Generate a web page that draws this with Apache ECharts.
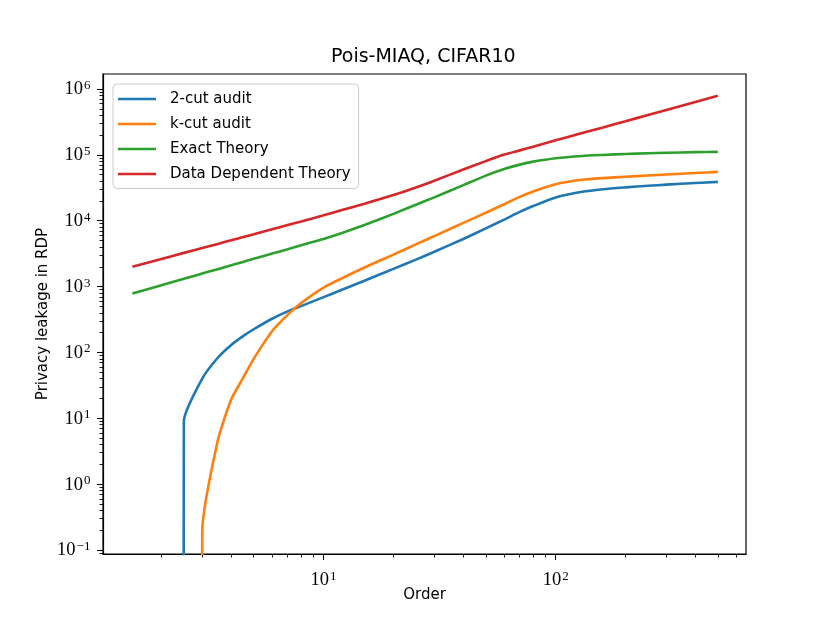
<!DOCTYPE html>
<html>
<head>
<meta charset="utf-8">
<script src="https://cdn.jsdelivr.net/npm/echarts@6/dist/echarts.min.js"></script>
<style>
html,body{margin:0;padding:0;background:#ffffff;}
#chart{width:830px;height:623px;}
</style>
</head>
<body>
<div id="chart"></div>
<script>
// ---- data ----
const orders = [1.5, 2, 2.5, 3, 3.5, 4, 4.5, 5, 6, 7, 8, 10, 12, 15, 20, 25, 30, 40, 50, 60, 70, 80, 100, 130, 160, 200, 250, 300, 400, 500];
const twoCutAudit = [0, 0, 9, 40, 83, 130, 177, 225, 325, 420, 505, 692, 894, 1225, 1860, 2570, 3380, 5280, 7640, 10400, 13600, 16700, 22600, 27500, 30100, 32100, 34000, 35300, 37400, 38900];
const kCutAudit = [0, 0, 0, 0.19, 4.6, 19.3, 41, 80, 210, 372, 562, 968, 1335, 1945, 3060, 4380, 5850, 9270, 13200, 17800, 23000, 27800, 35800, 41800, 44400, 46600, 48600, 50300, 53000, 55200];
const exactTheory = [782, 1045, 1310, 1575, 1840, 2105, 2370, 2640, 3170, 3700, 4240, 5300, 6530, 8630, 12700, 17500, 22600, 34700, 48400, 61000, 71100, 78900, 88900, 96200, 99800, 103300, 105800, 107600, 109900, 111200];
const dataDependentTheory = [2000, 2630, 3250, 3840, 4440, 5050, 5640, 6230, 7410, 8580, 9730, 12100, 14500, 18100, 24500, 32000, 40400, 60000, 80400, 101000, 117000, 133000, 166000, 214000, 261000, 324000, 403000, 481000, 635000, 789000];

const seriesNames = ['2-cut audit', 'k-cut audit', 'Exact Theory', 'Data Dependent Theory'];
const seriesColors = ['#1f77b4', '#ff7f0e', '#2ca02c', '#d62728'];
const seriesValues = [twoCutAudit, kCutAudit, exactTheory, dataDependentTheory];

const titleText = 'Pois-MIAQ, CIFAR10';
const xName = 'Order';
const yName = 'Privacy leakage in RDP';

// axis ranges
const xRange = [1.121, 661];
const yRange = [0.087, 1.69e6];

// tick values
const xMajorTicks = [1, 10, 100];
const yMajorTicks = [0.1, 1, 10, 100, 1000, 10000, 100000, 1000000];
const minorMultipliers = [2, 3, 4, 5, 6, 7, 8, 9];
const xDecades = [1, 10, 100];
const yDecades = [0.01, 0.1, 1, 10, 100, 1000, 10000, 100000];
function minorTicks(decades, range) {
  const out = [];
  decades.forEach(d => minorMultipliers.forEach(m => {
    const v = +(d * m).toPrecision(6);
    if (v > range[0] && v < range[1]) out.push(v);
  }));
  return out;
}
const xMinorTicks = minorTicks(xDecades, xRange);
const yMinorTicks = minorTicks(yDecades, yRange);
const inRange = (arr, r) => arr.filter(v => v >= r[0] && v <= r[1]);

// ---- styling ----
const SANS = 'DejaVu Sans';
const SERIF = 'Liberation Serif';
const BLACK = '#000000';

function powLabel(v) {
  const e = Math.round(Math.log10(v));
  const s = e < 0 ? '\u2212' + (-e) : String(e);
  return '{b|10}{s|' + s + '}';
}
const labelRich = {
  b: {fontFamily: SERIF, fontSize: 18.5, color: BLACK, lineHeight: 20, verticalAlign: 'bottom'},
  s: {fontFamily: SERIF, fontSize: 13, color: BLACK, lineHeight: 14, verticalAlign: 'top', padding: [0, 0, 0, 1]}
};

// matplotlib clips non-positive values on a log axis to a tiny positive number
const clipLog = v => (v > 0 ? v : 1e-300);

const gridBox = {left: 103, right: 84, top: 74, bottom: 69};
const lg = Math.log10;

// tick-only axes living in log10 space (the log axis of grid 0 carries data and labels)
function tickAxis(kind, gridIndex, range, values, len) {
  return {
    type: 'value', gridIndex: gridIndex, min: lg(range[0]), max: lg(range[1]),
    position: kind === 'x' ? 'bottom' : 'left',
    axisLine: {show: false, onZero: false},
    axisTick: {show: true, inside: false, length: len, customValues: inRange(values, range).map(lg), lineStyle: {color: BLACK, width: len > 5 ? 1.1 : 0.9}},
    axisLabel: {show: false},
    splitLine: {show: false},
    minorTick: {show: false}
  };
}

const chart = echarts.init(document.getElementById('chart'), null, {renderer: 'canvas'});
const option = {
  animation: false,
  backgroundColor: '#ffffff',
  title: {
    text: titleText, left: 331, top: 48, padding: 0,
    textStyle: {fontFamily: SANS, fontSize: 19, fontWeight: 'normal', color: BLACK}
  },
  legend: {
    orient: 'vertical', left: 113, top: 84, padding: [6.5, 8, 6, 5],
    itemGap: 8, itemWidth: 38, itemHeight: 2.6, icon: 'rect',
    backgroundColor: 'rgba(255,255,255,0.8)', borderColor: '#cccccc', borderWidth: 1, borderRadius: 4,
    textStyle: {fontFamily: SANS, fontSize: 15, color: BLACK, lineHeight: 17, padding: [0, 0, 0, 9]},
    data: seriesNames
  },
  grid: [
    Object.assign({show: true, borderColor: BLACK, borderWidth: 1.2, backgroundColor: 'transparent', containLabel: false, outerBoundsMode: 'none'}, gridBox),
    Object.assign({show: false, containLabel: false, outerBoundsMode: 'none'}, gridBox),
    Object.assign({show: false, containLabel: false, outerBoundsMode: 'none'}, gridBox)
  ],
  xAxis: [
    {
      type: 'log', logBase: 10, gridIndex: 0, min: xRange[0], max: xRange[1], position: 'bottom',
      axisLine: {show: true, onZero: false, lineStyle: {color: BLACK, width: 1.2}},
      axisTick: {show: false}, minorTick: {show: false}, splitLine: {show: false},
      axisLabel: {show: true, margin: 16, showMinLabel: false, showMaxLabel: false, formatter: powLabel, rich: labelRich},
      name: xName, nameLocation: 'middle', nameGap: 34, nameMoveOverlap: false,
      nameTextStyle: {fontFamily: SANS, fontSize: 15, color: BLACK}
    },
    tickAxis('x', 1, xRange, xMajorTicks, 6),
    tickAxis('x', 2, xRange, xMinorTicks, 3.5)
  ],
  yAxis: [
    {
      type: 'log', logBase: 10, gridIndex: 0, min: yRange[0], max: yRange[1], position: 'left',
      axisLine: {show: true, onZero: false, lineStyle: {color: BLACK, width: 1.2}},
      axisTick: {show: false}, minorTick: {show: false}, splitLine: {show: false},
      axisLabel: {show: true, margin: 12.6, showMinLabel: false, showMaxLabel: false, formatter: powLabel, rich: labelRich},
      name: yName, nameLocation: 'middle', nameGap: 52, nameRotate: 90, nameMoveOverlap: false,
      nameTextStyle: {fontFamily: SANS, fontSize: 15, color: BLACK}
    },
    tickAxis('y', 1, yRange, yMajorTicks, 6),
    tickAxis('y', 2, yRange, yMinorTicks, 3.5)
  ],
  series: seriesNames.map((name, k) => ({
    name: name, type: 'line', xAxisIndex: 0, yAxisIndex: 0,
    symbol: 'none', showSymbol: false, smooth: 0.2, clip: true,
    color: seriesColors[k],
    lineStyle: {color: seriesColors[k], width: 2.6},
    data: orders.map((x, i) => [x, clipLog(seriesValues[k][i])])
  }))
};
chart.setOption(option);
</script>
</body>
</html>
